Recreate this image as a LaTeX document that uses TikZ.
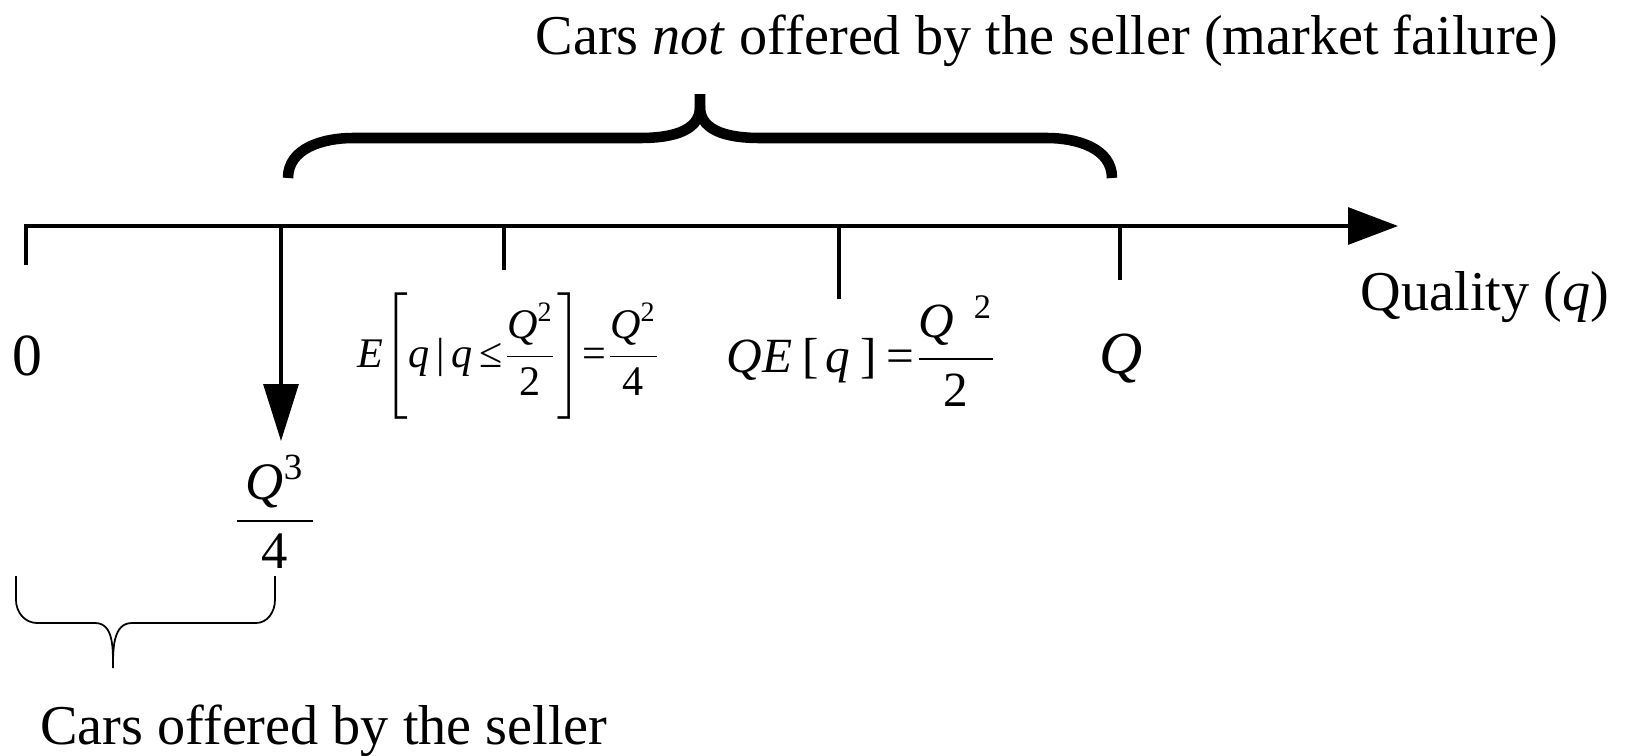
\documentclass[tikz,border=0pt]{standalone}
\usepackage{amsmath,amssymb}
\usepackage{fontspec}
\setmainfont{Liberation Serif}
\usepackage{tikz}
\usetikzlibrary{arrows.meta, positioning, calc}
\newcommand{\tv}[1]{\text{\itshape #1}}
\newcommand{\tn}[1]{\text{\upshape #1}}

\begin{document}
\begin{tikzpicture}[
    axisline/.style={line width=0.9pt, line join=miter},
    tickline/.style={line width=0.9pt},
    bigbrace/.style={line width=3pt},
    thinbrace/.style={line width=0.5pt},
    txt/.style={inner sep=0pt, font=\fontsize{16}{19}\selectfont},
    mth/.style={inner sep=0pt}
]
\useasboundingbox (0,0) rectangle (16.27,7.55);

% --- AXIS ---
\coordinate (o) at (0.26,5.29);
\coordinate (qend) at (13.98,5.29);
\coordinate (tk0) at (0.26,4.90);
\draw[axisline, -{Triangle[length=5mm,width=3.7mm]}] (tk0) -- (o) -- (qend);

% ticks
\coordinate (tc) at (2.81,5.29);
\coordinate (tm) at (5.04,5.29);
\coordinate (te) at (8.39,5.29);
\coordinate (tq) at (11.20,5.29);
\draw[tickline] (tm) -- ++(0,-0.44);
\draw[tickline] (te) -- ++(0,-0.73);
\draw[tickline] (tq) -- ++(0,-0.54);

% --- LABELS ---
\node[txt, anchor=base west] (qual) at (13.60,4.45) {Quality (\textit{q})};
\node[txt, anchor=base, font=\fontsize{17}{20}\selectfont] (zero) at (0.27,3.80) {0};
\node[txt, anchor=base, font=\fontsize{17}{20}\selectfont\itshape] (bigq) at (11.21,3.82) {Q};
\node[mth, anchor=base west, font=\fontsize{12}{14}\selectfont] (eqone) at (3.57,3.88)
    {$\tv{E}\Biggl[\tv{q}\,\tn{|}\,\tv{q}\,\tn{≤}\dfrac{\tv{Q}^{\tn{2}}}{\tn{2}}\Biggr]\tn{=}\dfrac{\tv{Q}^{\tn{2}}}{\tn{4}}$};
\node[mth, anchor=base west, font=\fontsize{14}{16}\selectfont] (eqtwo) at (7.26,3.83)
    {$\tv{QE}\hspace{0.2em}\tn{[}\hspace{0.15em}\tv{q}\hspace{0.2em}\tn{]}\hspace{0.2em}\tn{=}\dfrac{\tv{Q}^{\hspace{0.4em}\tn{2}}}{\tn{2}}$};
\node[mth, font=\fontsize{15}{18}\selectfont] (cut) at (2.75,2.43)
    {$\dfrac{\,\tv{Q}^{\tn{3}}\,}{\tn{4}}$};

% cutoff arrow
\coordinate (cutend) at (2.81,3.14);
\draw[tickline, -{Triangle[length=5.7mm,width=3.5mm]}] (tc) -- (cutend);

% --- BRACE (TOP) ---
\draw[bigbrace] (2.88,5.77) to[out=90,in=180] (3.53,6.17) -- (6.40,6.17)
    to[out=0,in=-90] (7.00,6.48) -- (7.00,6.61);
\draw[bigbrace] (7.00,6.48) to[out=-90,in=180] (7.60,6.17) -- (10.47,6.17)
    to[out=0,in=90] (11.12,5.77);
\node[txt, anchor=base] (nottitle) at (10.47,7.01) {Cars \textit{not} offered by the seller (market failure)};

% --- BRACE (BOTTOM) ---
\draw[thinbrace] (0.16,1.79) -- (0.16,1.55) to[out=-90,in=180] (0.37,1.32) -- (0.95,1.32)
    to[out=0,in=90] (1.13,0.87) to[out=90,in=180] (1.32,1.32) -- (2.56,1.32)
    to[out=0,in=-90] (2.75,1.55) -- (2.75,1.79);
\node[txt, anchor=base] (offered) at (3.24,0.11) {Cars offered by the seller};

\end{tikzpicture}
\end{document}
